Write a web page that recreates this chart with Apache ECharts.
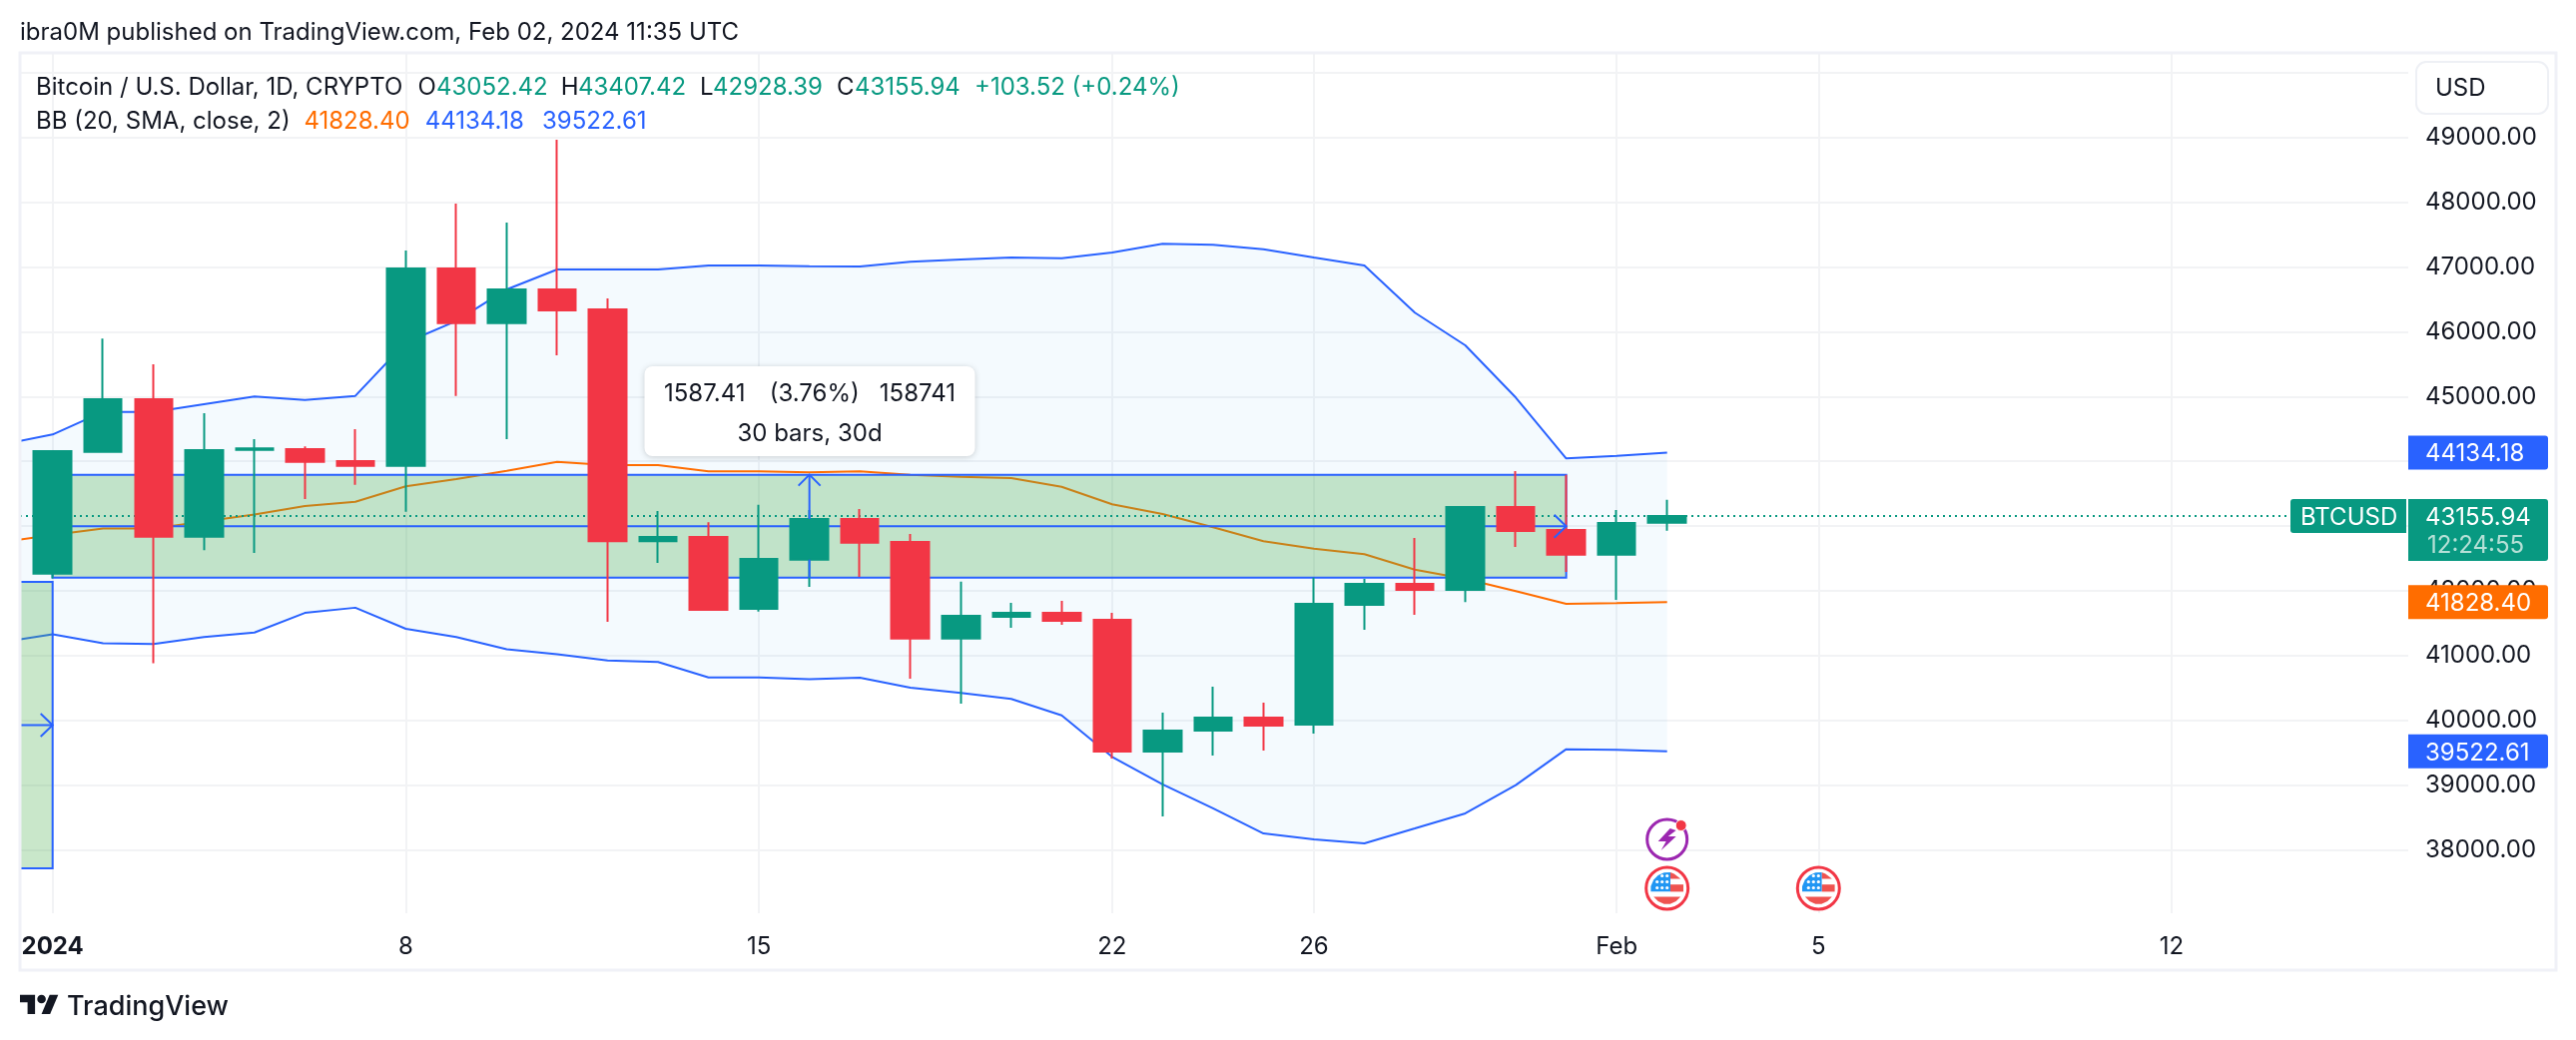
<!DOCTYPE html>
<html><head><meta charset="utf-8">
<style>html,body{margin:0;padding:0;background:#fff}#c{width:2580px;height:1042px}</style>
<script src="https://cdn.jsdelivr.net/npm/echarts@6/dist/echarts.min.js"></script>
</head><body><div id="c"></div>
<script>
const dates = ['Jan 1','Jan 2','Jan 3','Jan 4','Jan 5','Jan 6','Jan 7','Jan 8','Jan 9','Jan 10','Jan 11','Jan 12','Jan 13','Jan 14','Jan 15','Jan 16','Jan 17','Jan 18','Jan 19','Jan 20','Jan 21','Jan 22','Jan 23','Jan 24','Jan 25','Jan 26','Jan 27','Jan 28','Jan 29','Jan 30','Jan 31','Feb 1','Feb 2'];
const opens  = [42268,44147,44959,42838,44178,44189,44004,43931,46977,46134,46654,46346,42768,42833,41725,42482,43110,42756,41266,41600,41662,41554,39521,39844,40044,39937,41785,42109,42016,43295,42941,42560,43052.42];
const closes = [44158,44959,42838,44173,44200,43993,43931,46977,46134,46654,46330,42768,42833,41708,42492,43110,42745,41266,41616,41662,41539,39521,39844,40044,39921,41801,42109,42016,43295,42925,42560,43049,43155.94];
const lows   = [42194,44130,40884,42630,42588,43418,43639,43221,45010,44343,45637,41524,42434,41708,41682,42061,42216,40645,40260,41431,41477,39413,38519,39459,39536,39798,41400,41631,41827,42679,42294,41862,42928.39];
const highs  = [44173,45894,45498,44743,44343,44230,44497,47255,47979,47686,48964,46515,43232,43061,43328,43250,43265,42879,42144,41816,41847,41662,40122,40522,40276,42206,42186,42817,43295,43850,43793,43250,43407.42];
const bbUpper = [44258,44415,44763,44763,44882,45001,44948,45010,45833,46165,46654,46962,46962,46962,47023,47023,47013,47008,47080,47116,47147,47136,47224,47358,47342,47275,47147,47023,46295,45791,44985,44045,44085,44134.18];
const bbBasis = [42756,42864,42965,42965,43072,43178,43312,43375,43614,43727,43854,43993,43942,43942,43845,43845,43830,43845,43793,43762,43742,43608,43337,43187,42982,42767,42653,42566,42329,42186,41996,41801,41812,41828.40];
const bbLower = [41208,41331,41192,41182,41288,41357,41661,41741,41416,41288,41101,41023,40926,40904,40665,40665,40639,40661,40507,40425,40333,40080,39439,39013,38643,38257,38165,38103,38334,38566,39002,39557,39547,39522.61];
const bbFirstDay = -1;
const rangeStartDays = [-3, 0];
const rangeEndDays = [0, 30];
const rangeLows = [37720, 42206];
const rangeHighs = [42140, 43793.41];
const upArrowDay = 15;
const tickDays = [0,7,14,21,25,31,35,42];
const tickLabels = ['2024','8','15','22','26','Feb','5','12'];
const priceTicks = [38000,39000,40000,41000,42000,43000,44000,45000,46000,47000,48000,49000];
const gridTicks = priceTicks.concat([50000]);
const lastClose = 43155.94;
const eventBoltDays = [32];
const eventFlagDays = [32,35];

const FONT = 'Inter, "Noto Sans", sans-serif';
const INK = '#131722', UP = '#089981', DOWN = '#F23645', BLUE = '#2962FF', ORANGE = '#FF6D00';
const GRID_LINE = '#F2F3F5';
const xMin = -0.647, xMax = 46.69, yMin = 37025, yMax = 50289;

const candleData = dates.map((d,i)=>[i,opens[i],closes[i],lows[i],highs[i]]);
const lineData = arr => arr.map((v,i)=>[bbFirstDay+i,v]);

function txt(text,x,y,fill,opt){
  return {type:'text',z:100,silent:true,x:x,y:y+1.5,style:Object.assign({text:text,fill:fill||INK,font:'24px '+FONT,verticalAlign:'middle',align:'left'},opt||{})};
}
function renderBand(params,api){
  const pts=[];
  bbUpper.forEach((v,i)=>pts.push(api.coord([bbFirstDay+i,v])));
  for(let i=bbLower.length-1;i>=0;i--)pts.push(api.coord([bbFirstDay+i,bbLower[i]]));
  return {type:'polygon',shape:{points:pts},style:{fill:'rgba(33,150,243,0.05)',stroke:null}};
}
function chevronH(p){return {type:'polyline',shape:{points:[[p[0]-12,p[1]-11.5],[p[0],p[1]],[p[0]-12,p[1]+11.5]]},style:{stroke:BLUE,fill:null,lineWidth:2}};}
function chevronV(p){return {type:'polyline',shape:{points:[[p[0]-11,p[1]+11],[p[0],p[1]],[p[0]+11,p[1]+11]]},style:{stroke:BLUE,fill:null,lineWidth:2}};}
function renderRange(params,api){
  const i=params.dataIndex;
  const a=api.coord([rangeStartDays[i],rangeHighs[i]]), b=api.coord([rangeEndDays[i],rangeLows[i]]);
  const midY=(a[1]+b[1])/2;
  return {type:'group',children:[
    {type:'rect',shape:{x:a[0],y:a[1],width:b[0]-a[0],height:b[1]-a[1]},style:{fill:'rgba(76,175,80,0.3)',stroke:BLUE,lineWidth:2}},
    {type:'line',shape:{x1:a[0],y1:midY,x2:b[0],y2:midY},style:{stroke:BLUE,lineWidth:2}}
  ]};
}
function renderRangeTop(params,api){
  const kids=[];
  rangeEndDays.forEach((d,i)=>{
    const y=api.coord([d,(rangeLows[i]+rangeHighs[i])/2]);
    kids.push(chevronH(y));
  });
  const t=api.coord([upArrowDay,rangeHighs[1]]), bm=api.coord([upArrowDay,rangeLows[1]]);
  const bodyTop=api.coord([upArrowDay,closes[upArrowDay]]), bodyBot=api.coord([upArrowDay,opens[upArrowDay]]);
  kids.push({type:'line',shape:{x1:t[0],y1:t[1],x2:t[0],y2:bodyTop[1]},style:{stroke:BLUE,lineWidth:2}});
  kids.push({type:'line',shape:{x1:t[0],y1:bodyBot[1],x2:t[0],y2:bm[1]},style:{stroke:BLUE,lineWidth:2}});
  kids.push(chevronV(t));
  return {type:'group',children:kids};
}
function renderTags(params,api){
  const left=params.coordSys.x+params.coordSys.width;
  const tags=[[bbUpper[bbUpper.length-1],BLUE],[bbBasis[bbBasis.length-1],ORANGE],[bbLower[bbLower.length-1],BLUE]];
  const kids=[];
  tags.forEach(t=>{
    const y=api.coord([0,t[0]])[1];
    kids.push({type:'rect',shape:{x:left,y:y-17,width:140,height:34,r:[0,3,3,0]},style:{fill:t[1]}});
    kids.push({type:'text',x:left+17,y:y+1.5,style:{text:t[0].toFixed(2),fill:'#fff',font:'24px '+FONT,verticalAlign:'middle'}});
  });
  const y=api.coord([0,lastClose])[1];
  kids.push({type:'rect',shape:{x:left,y:y-17,width:140,height:62,r:[0,3,3,0]},style:{fill:UP}});
  kids.push({type:'text',x:left+17,y:y+1.5,style:{text:lastClose.toFixed(2),fill:'#fff',font:'24px '+FONT,verticalAlign:'middle'}});
  kids.push({type:'text',x:left+19,y:y+29.5,style:{text:'12:24:55',fill:'#B5E0D6',font:'24px '+FONT,verticalAlign:'middle'}});
  kids.push({type:'rect',shape:{x:left-118,y:y-17,width:116,height:34,r:[3,0,0,3]},style:{fill:UP}});
  kids.push({type:'text',x:left-108,y:y+1.5,style:{text:'BTCUSD',fill:'#fff',font:'24px '+FONT,verticalAlign:'middle'}});
  return {type:'group',children:kids};
}
function renderEvents(params,api){
  const kids=[];
  const boltValue=38165, flagValue=37410;
  eventBoltDays.forEach(d=>{
    const p=api.coord([d,boltValue]);
    kids.push({type:'group',x:p[0],y:p[1],children:[
      {type:'circle',shape:{cx:0,cy:0,r:20},style:{fill:'#fff',stroke:'#9C27B0',lineWidth:3}},
      {type:'polygon',shape:{points:[[3,-11],[-9,2],[-1,2],[-6,11],[9,-3],[1,-3],[9,-9]]},style:{fill:'#9C27B0'}},
      {type:'circle',shape:{cx:14,cy:-14,r:5.5},style:{fill:DOWN,stroke:'#fff',lineWidth:1}}
    ]});
  });
  eventFlagDays.forEach(d=>{
    const p=api.coord([d,flagValue]);
    const stars=[];
    [[-5,-12.5],[0,-12.5],[-10,-6.5],[-5,-6.5],[0,-6.5],[-10,-0.5],[-5,-0.5],[0,-0.5]].forEach(s=>stars.push({type:'circle',shape:{cx:s[0],cy:s[1],r:1.6},style:{fill:'#fff'}}));
    kids.push({type:'group',x:p[0],y:p[1],children:[
      {type:'circle',shape:{cx:0,cy:0,r:21},style:{fill:'#fff',stroke:DOWN,lineWidth:3}},
      {type:'polygon',shape:{points:[[3.3,-16],[7,-14.5],[11,-11.5],[13.5,-9.6],[3.3,-9.6]]},style:{fill:'#EF5350'}},
      {type:'rect',shape:{x:3.3,y:-3.8,width:13,height:7.2},style:{fill:'#EF5350'}},
      {type:'polygon',shape:{points:[[-13.5,8.6],[13.5,8.6],[9,13],[3,15.8],[-3,15.8],[-9,13]]},style:{fill:'#EF5350'}},
      {type:'polygon',shape:{points:[[3.3,-16],[-3,-15.8],[-9,-13],[-13.5,-8.6],[-16.3,-2],[-16.3,3.3],[3.3,3.3]]},style:{fill:'#2196F3'}},
      {type:'group',children:stars}
    ]});
  });
  return {type:'group',children:kids};
}

const chart = echarts.init(document.getElementById('c'),null,{renderer:'canvas'});
const lineStyleBase = {animation:false,type:'line',showSymbol:false,symbol:'none',silent:true,clip:true,smooth:false};
chart.setOption({
  animation:false,
  backgroundColor:'#fff',
  textStyle:{fontFamily:FONT},
  grid:{left:20,right:168,top:54,bottom:127,containLabel:false},
  xAxis:{type:'value',min:xMin,max:xMax,
    axisLine:{show:false},
    axisTick:{show:false,customValues:tickDays},
    splitLine:{show:true,lineStyle:{color:GRID_LINE,width:2}},
    axisLabel:{customValues:tickDays,margin:22,color:INK,fontSize:24,fontFamily:FONT,hideOverlap:false,showMinLabel:true,showMaxLabel:true,
      formatter:v=>{const s=tickLabels[tickDays.indexOf(v)];return s==='2024'?'{b|'+s+'}':s;},
      rich:{b:{fontWeight:700,fontSize:24,fontFamily:FONT,color:INK}}}
  },
  yAxis:{type:'value',position:'right',min:yMin,max:yMax,
    axisLine:{show:false},
    axisTick:{show:false,customValues:gridTicks},
    splitLine:{show:true,lineStyle:{color:GRID_LINE,width:2}},
    axisLabel:{customValues:priceTicks,margin:17,color:INK,fontSize:24,fontFamily:FONT,padding:[3,0,0,0],formatter:v=>v.toFixed(2)}
  },
  series:[
    {type:'custom',name:'BB band',z:1,silent:true,clip:true,renderItem:renderBand,data:[[0,yMin]],encode:{x:0,y:1}},
    Object.assign({},lineStyleBase,{name:'BB upper',z:2,data:lineData(bbUpper),lineStyle:{color:BLUE,width:2}}),
    Object.assign({},lineStyleBase,{name:'BB basis',z:2,data:lineData(bbBasis),lineStyle:{color:ORANGE,width:2}}),
    Object.assign({},lineStyleBase,{name:'BB lower',z:2,data:lineData(bbLower),lineStyle:{color:BLUE,width:2}}),
    {type:'custom',name:'Date and price ranges',z:3,silent:true,clip:true,renderItem:renderRange,data:rangeEndDays.map((d,i)=>[d,rangeLows[i]]),encode:{x:0,y:1}},
    Object.assign({},lineStyleBase,{name:'Last close',z:4,data:[[xMin,lastClose],[xMax,lastClose]],lineStyle:{color:UP,width:2,type:[2,4]}}),
    {type:'candlestick',name:'BTCUSD',z:5,silent:true,barWidth:38,data:candleData,encode:{x:0,y:[1,2,3,4]},
      clip:true,
      itemStyle:{color:UP,color0:DOWN,borderColor:UP,borderColor0:DOWN,borderWidth:2}},
    {type:'custom',name:'Range arrows',z:6,silent:true,clip:true,renderItem:renderRangeTop,data:[[0,yMin]],encode:{x:0,y:1}},
    {type:'custom',name:'Events',z:7,silent:true,renderItem:renderEvents,data:[[32,yMin]],encode:{x:0,y:1}},
    {type:'custom',name:'Price tags',z:8,silent:true,renderItem:renderTags,data:[[0,yMin]],encode:{x:0,y:1}}
  ],
  graphic:[
    {type:'rect',z:90,silent:true,shape:{x:20,y:53,width:2540,height:919},style:{fill:null,stroke:'#F0F1F7',lineWidth:3}},
    {type:'rect',z:95,silent:true,shape:{x:2420,y:62,width:132,height:52,r:10},style:{fill:'#fff',stroke:'#EEF0F5',lineWidth:2}},
    txt('USD',2439,87),
    txt('ibra0M published on TradingView.com, Feb 02, 2024 11:35 UTC',20,31),
    txt('Bitcoin / U.S. Dollar, 1D, CRYPTO',36,86),
    txt('O',418.5,86), txt('43052.42',437,86,UP),
    txt('H',561.7,86), txt('43407.42',579,86,UP),
    txt('L',701,86), txt('42928.39',714,86,UP),
    txt('C',838,86), txt('43155.94',856,86,UP),
    txt('+103.52 (+0.24%)',976,86,UP),
    txt('BB (20, SMA, close, 2)',36,120),
    txt('41828.40',304.4,120,ORANGE),
    txt('44134.18',425.7,120,BLUE),
    txt('39522.61',543,120,BLUE),
    {type:'rect',z:96,silent:true,shape:{x:645.5,y:367,width:331,height:90,r:8},style:{fill:'#fff',shadowBlur:6,shadowColor:'rgba(0,0,0,0.18)',shadowOffsetY:1}},
    txt('1587.41',665,393),
    txt('(3.76%)',770.7,393),
    txt('158741',957,393,INK,{align:'right'}),
    txt('30 bars, 30d',811,433,INK,{align:'center'}),
    {type:'polygon',z:100,silent:true,shape:{points:[[20,996.7],[35.1,996.7],[35.1,1016],[27.6,1016],[27.6,1004.2],[20,1004.2]]},style:{fill:INK}},
    {type:'polygon',z:100,silent:true,shape:{points:[[50.2,1016],[41.6,1016],[49.7,996.7],[58.3,996.7]]},style:{fill:INK}},
    {type:'circle',z:100,silent:true,shape:{cx:41.6,cy:1001,r:4.3},style:{fill:INK}},
    txt('TradingView',67,1007,INK,{font:'500 27px '+FONT})
  ]
});
</script></body></html>
